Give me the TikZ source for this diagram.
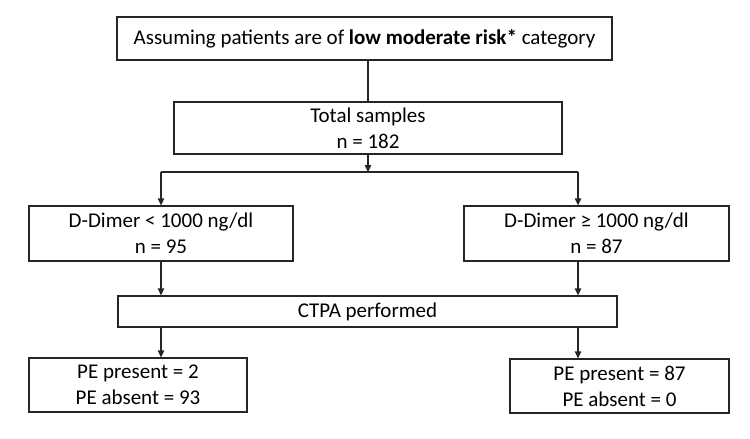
\documentclass[tikz,border=0pt]{standalone}
\usepackage{fontspec}
\setmainfont{Carlito}
\usetikzlibrary{arrows.meta}

\begin{document}
\begin{tikzpicture}[x=1pt,y=-1pt,
  box/.style={draw=black!85,line width=1.3pt,inner sep=0pt,align=center,
    font=\fontsize{21}{26}\selectfont},
  arr/.style={line width=1.3pt,draw=black!85,-{Triangle[length=7pt,width=6.5pt]}}]
  \useasboundingbox (0,0) rectangle (750,439);
  \node[box,minimum width=495pt,minimum height=43pt] (risk) at (364.5,38.5)
    {Assuming patients are of \textbf{low moderate risk*} category};
  \node[box,minimum width=388pt,minimum height=52pt] (total) at (368,128)
    {Total samples\\n = 182};
  \node[box,minimum width=264pt,minimum height=55pt] (ddlow) at (161,233.5)
    {D-Dimer < 1000 ng/dl\\n = 95};
  \node[box,minimum width=265pt,minimum height=55pt] (ddhigh) at (596.5,233.5)
    {D-Dimer ≥ 1000 ng/dl\\n = 87};
  \node[box,minimum width=499pt,minimum height=31pt] (ctpa) at (367.5,311.5)
    {CTPA performed};
  \node[box,minimum width=218pt,minimum height=54pt] (pelow) at (138,385)
    {PE present = 2\\PE absent = 93};
  \node[box,minimum width=219pt,minimum height=54pt] (pehigh) at (619.5,386)
    {PE present = 87\\PE absent = 0};
  \coordinate (splitL) at (161,172);
  \coordinate (splitR) at (578,172);
  \draw[line width=1.3pt,draw=black!85] (risk.south -| total) -- (total.north);
  \draw[arr] (total.south) -- (total.south |- splitL);
  \draw[line width=1.3pt,draw=black!85] (splitL) -- (splitR);
  \draw[arr] (splitL) -- (ddlow.north);
  \draw[arr] (splitR) -- (splitR |- ddhigh.north);
  \draw[arr] (ddlow.south) -- (ddlow.south |- ctpa.north);
  \draw[arr] (splitR |- ddhigh.south) -- (splitR |- ctpa.north);
  \draw[arr] (ctpa.south -| splitL) -- (splitL |- pelow.north);
  \draw[arr] (ctpa.south -| splitR) -- (splitR |- pehigh.north);
\end{tikzpicture}
\end{document}
